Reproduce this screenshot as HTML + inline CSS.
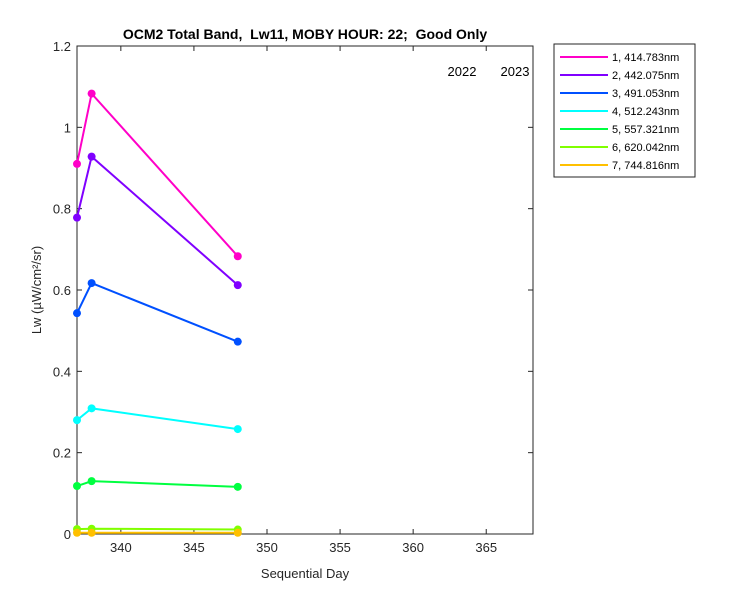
<!DOCTYPE html>
<html><head><meta charset="utf-8"><style>
body{margin:0;background:#fff;}
svg{font-family:"Liberation Sans",Arial,sans-serif;}
</style></head><body>
<svg id="chart" width="750" height="600">
<rect width="750" height="600" fill="#fff"/>
<g id="plot"></g>
</svg>
<script>
const days=[337,338,348];
const labels=["1, 414.783nm","2, 442.075nm","3, 491.053nm","4, 512.243nm","5, 557.321nm","6, 620.042nm","7, 744.816nm"];
const colors=["#ff00c8","#8000ff","#0050ff","#00ffff","#00ff40","#80ff00","#ffc000"];
const s1=[0.91,1.083,0.683];
const s2=[0.778,0.928,0.612];
const s3=[0.543,0.617,0.473];
const s4=[0.28,0.309,0.258];
const s5=[0.118,0.13,0.116];
const s6=[0.012,0.013,0.011];
const s7=[0.003,0.003,0.003];
const series=[s1,s2,s3,s4,s5,s6,s7];
const xTicks=[340,345,350,355,360,365];
const yTicks=[0,0.2,0.4,0.6,0.8,1,1.2];
const X0=77,X1=533,Y0=534,Y1=46,xmin=337,xmax=368.2,ymin=0,ymax=1.2;
const sx=v=>X0+(v-xmin)/(xmax-xmin)*(X1-X0);
const sy=v=>Y0-(v-ymin)/(ymax-ymin)*(Y0-Y1);
const NS="http://www.w3.org/2000/svg";
const g=document.getElementById('plot');
function mk(t,a,p){const e=document.createElementNS(NS,t);for(const k in a)e.setAttribute(k,a[k]);(p||g).appendChild(e);return e;}
const box=mk('rect',{x:X0,y:Y1,width:X1-X0,height:Y0-Y1,fill:'none',stroke:'#262626','stroke-width':1});


xTicks.forEach(t=>{const x=sx(t);
mk('line',{x1:x,x2:x,y1:Y0,y2:Y0-5,stroke:'#262626'});mk('line',{x1:x,x2:x,y1:Y1,y2:Y1+5,stroke:'#262626'});
const tx=mk('text',{x:x,y:Y0+18,'text-anchor':'middle','font-size':13,fill:'#262626'});tx.textContent=t;

});
yTicks.forEach(t=>{const y=sy(t);
mk('line',{x1:X0,x2:X0+5,y1:y,y2:y,stroke:'#262626'});mk('line',{x1:X1,x2:X1-5,y1:y,y2:y,stroke:'#262626'});
const tx=mk('text',{x:X0-6,y:y+5,'text-anchor':'end','font-size':13,fill:'#262626'});tx.textContent=String(t);

});
series.forEach((s,i)=>{
const pl=mk('polyline',{points:s.map((v,j)=>sx(days[j])+','+sy(v)).join(' '),fill:'none',stroke:colors[i],'stroke-width':2});


s.forEach((v,j)=>{const c=mk('circle',{cx:sx(days[j]),cy:sy(v),r:4,fill:colors[i]});

});});
const t=mk('text',{x:305,y:39,'text-anchor':'middle','font-size':14,'font-weight':'bold',fill:'#000',style:'white-space:pre'});t.textContent="OCM2 Total Band,  Lw11, MOBY HOUR: 22;  Good Only";


const xl=mk('text',{x:305,y:578,'text-anchor':'middle','font-size':13,fill:'#262626'});xl.textContent="Sequential Day";


const yl=mk('text',{x:0,y:0,'text-anchor':'middle','font-size':13,fill:'#262626',transform:'translate(41,290) rotate(-90)'});yl.textContent="Lw (µW/cm²/sr)";


const y1=mk('text',{x:462,y:76,'text-anchor':'middle','font-size':13,fill:'#000'});y1.textContent="2022";


const y2=mk('text',{x:515,y:76,'text-anchor':'middle','font-size':13,fill:'#000'});y2.textContent="2023";


const lg=mk('rect',{x:554,y:44,width:141,height:133,fill:'#fff',stroke:'#262626'});


labels.forEach((l,i)=>{const y=57+i*18;
const ln=mk('line',{x1:560,x2:608,y1:y,y2:y,stroke:colors[i],'stroke-width':2});


const tx=mk('text',{x:612,y:y+4,'font-size':11,fill:'#000'});tx.textContent=l;

});
</script>
</body></html>
